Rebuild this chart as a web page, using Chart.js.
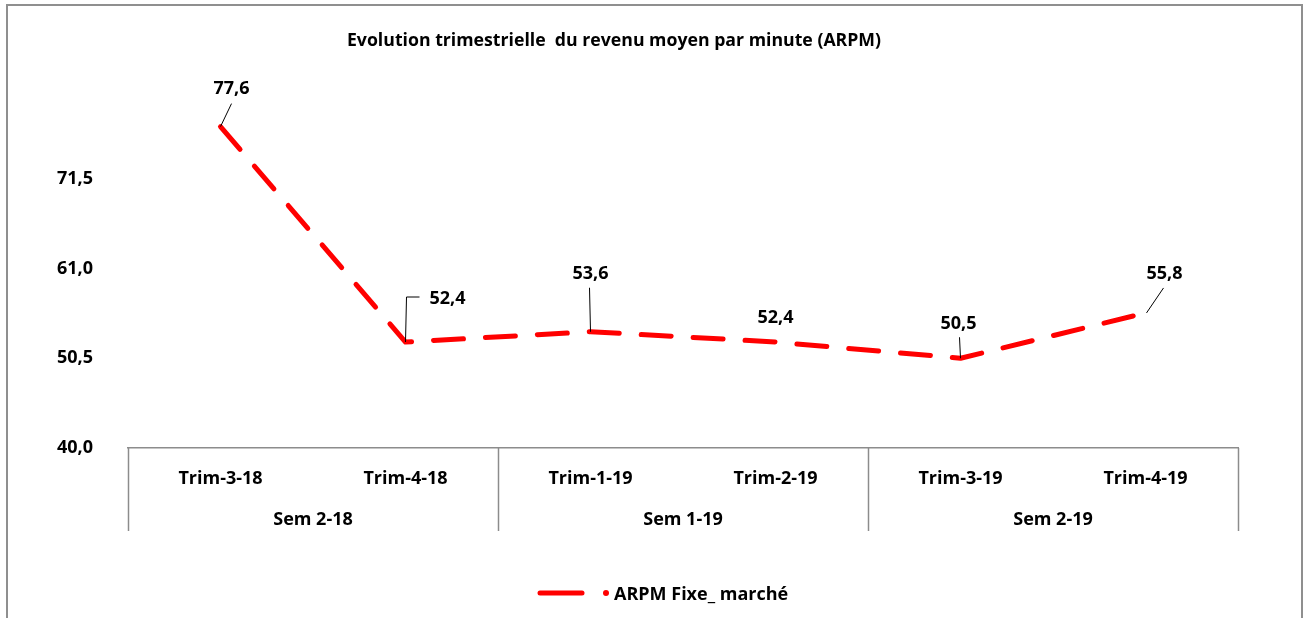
<!DOCTYPE html>
<html>
<head>
<meta charset="utf-8">
<script src="https://cdn.jsdelivr.net/npm/chart.js@4"></script>
<style>
  html, body { margin: 0; padding: 0; background: #fff; }
  #wrap { width: 1309px; height: 618px; }
</style>
</head>
<body>
<div id="wrap"><canvas id="arpmChart" width="1309" height="618"></canvas></div>
<script>
const trimestres = ['Trim-3-18', 'Trim-4-18', 'Trim-1-19', 'Trim-2-19', 'Trim-3-19', 'Trim-4-19'];
const semestres = ['Sem 2-18', 'Sem 1-19', 'Sem 2-19'];
const arpmFixe = [77.6, 52.4, 53.6, 52.4, 50.5, 55.8];
const yTicks = [40.0, 50.5, 61.0, 71.5];

const FONT = '"Open Sans", "Noto Sans", sans-serif';
const RED = '#ff0000';
const GREY = '#8c8c8c';

// where each data label sits relative to its point, and its leader line
const labelStyle = [
  { dx: 11, dy: -38, leader: [[0, 0], [11, -23]] },
  { dx: 42, dy: -43, leader: [[0, 0], [1, -45], [14, -45]] },
  { dx: 0, dy: -58, leader: [[0, 0], [-1, -44]] },
  { dx: 0, dy: -24, leader: null },
  { dx: -2, dy: -34, leader: [[0, 0], [-1, -21]] },
  { dx: 19, dy: -39, leader: [[1, 0], [18, -25]] },
];

const fmt = (v) => v.toFixed(1).replace('.', ',');

const decorations = {
  id: 'decorations',
  beforeDraw(chart) {
    const ctx = chart.ctx;
    ctx.save();
    // outer frame
    ctx.strokeStyle = '#8f8f8f';
    ctx.lineWidth = 2;
    ctx.beginPath();
    ctx.moveTo(7, 640);
    ctx.lineTo(7, 5);
    ctx.lineTo(1302, 5);
    ctx.lineTo(1302, 640);
    ctx.stroke();

    // title
    ctx.fillStyle = '#000';
    ctx.font = 'bold 17.7px ' + FONT;
    ctx.textAlign = 'center';
    ctx.textBaseline = 'middle';
    ctx.fillText('Evolution trimestrielle  du revenu moyen par minute (ARPM)', 614, 41);
    ctx.restore();
  },
  afterDraw(chart) {
    const ctx = chart.ctx;
    const x = chart.scales.x;
    const area = chart.chartArea;
    const bottom = area.bottom + 83;
    ctx.save();

    // category box: dividers between semesters
    ctx.strokeStyle = GREY;
    ctx.lineWidth = 1.5;
    const step = (x.right - x.left) / trimestres.length;
    for (let s = 0; s <= semestres.length; s++) {
      const px = Math.round(x.left + s * 2 * step) + 0.5;
      ctx.beginPath();
      ctx.moveTo(px, area.bottom);
      ctx.lineTo(px, bottom);
      ctx.stroke();
    }
    ctx.fillStyle = '#000';
    ctx.font = 'bold 18px ' + FONT;
    ctx.textAlign = 'center';
    ctx.textBaseline = 'middle';
    semestres.forEach((s, i) => {
      ctx.fillText(s, x.left + (i * 2 + 1) * step, area.bottom + 72);
    });

    // legend
    const ly = 593;
    ctx.strokeStyle = RED;
    ctx.lineWidth = 5;
    ctx.lineCap = 'round';
    ctx.beginPath();
    ctx.moveTo(540, ly);
    ctx.lineTo(582, ly);
    ctx.stroke();
    ctx.fillStyle = RED;
    ctx.beginPath();
    ctx.arc(606, ly, 3, 0, Math.PI * 2);
    ctx.fill();
    ctx.fillStyle = '#000';
    ctx.textAlign = 'left';
    ctx.fillText('ARPM Fixe_ marché', 614, ly + 2);
    ctx.restore();
  },
  afterDatasetsDraw(chart) {
    const ctx = chart.ctx;
    const meta = chart.getDatasetMeta(0);
    ctx.save();
    ctx.font = 'bold 18px ' + FONT;
    ctx.textAlign = 'center';
    ctx.textBaseline = 'middle';
    meta.data.forEach((pt, i) => {
      const st = labelStyle[i];
      if (st.leader) {
        ctx.strokeStyle = '#000';
        ctx.lineWidth = 1;
        ctx.beginPath();
        st.leader.forEach(([lx, ly], k) => {
          if (k === 0) ctx.moveTo(pt.x + lx, pt.y + ly);
          else ctx.lineTo(pt.x + lx, pt.y + ly);
        });
        ctx.stroke();
      }
      ctx.fillStyle = '#000';
      ctx.fillText(fmt(arpmFixe[i]), pt.x + st.dx, pt.y + st.dy);
    });
    ctx.restore();
  },
};

new Chart(document.getElementById('arpmChart'), {
  type: 'line',
  data: {
    labels: trimestres,
    datasets: [
      {
        label: 'ARPM Fixe_ marché',
        data: arpmFixe,
        borderColor: RED,
        backgroundColor: RED,
        borderWidth: 5,
        borderDash: [30, 22],
        borderCapStyle: 'round',
        borderJoinStyle: 'round',
        pointRadius: 0,
        tension: 0,
        fill: false,
      },
    ],
  },
  options: {
    responsive: false,
    animation: false,
    devicePixelRatio: 1,
    layout: { padding: { top: 89, right: 71, bottom: 0, left: 0 } },
    plugins: {
      legend: { display: false },
      title: { display: false },
      tooltip: { enabled: false },
    },
    scales: {
      x: {
        offset: true,
        grid: { display: false, drawTicks: false },
        border: { display: true, color: GREY, width: 1.5 },
        ticks: {
          color: '#000',
          font: { family: FONT, size: 18, weight: 'bold' },
          padding: 20,
          maxRotation: 0,
        },
        afterFit(scale) {
          scale.height = 170;
        },
      },
      y: {
        min: 40,
        max: 82,
        afterBuildTicks(scale) {
          scale.ticks = yTicks.concat([82]).map((v) => ({ value: v }));
        },
        grid: { display: false, drawTicks: false },
        border: { display: false },
        ticks: {
          color: '#000',
          font: { family: FONT, size: 18, weight: 'bold' },
          padding: 35,
          callback: (v) => (yTicks.includes(v) ? fmt(v) : ''),
        },
        afterFit(scale) {
          scale.width = 128;
        },
      },
    },
  },
  plugins: [decorations],
});
</script>
</body>
</html>
